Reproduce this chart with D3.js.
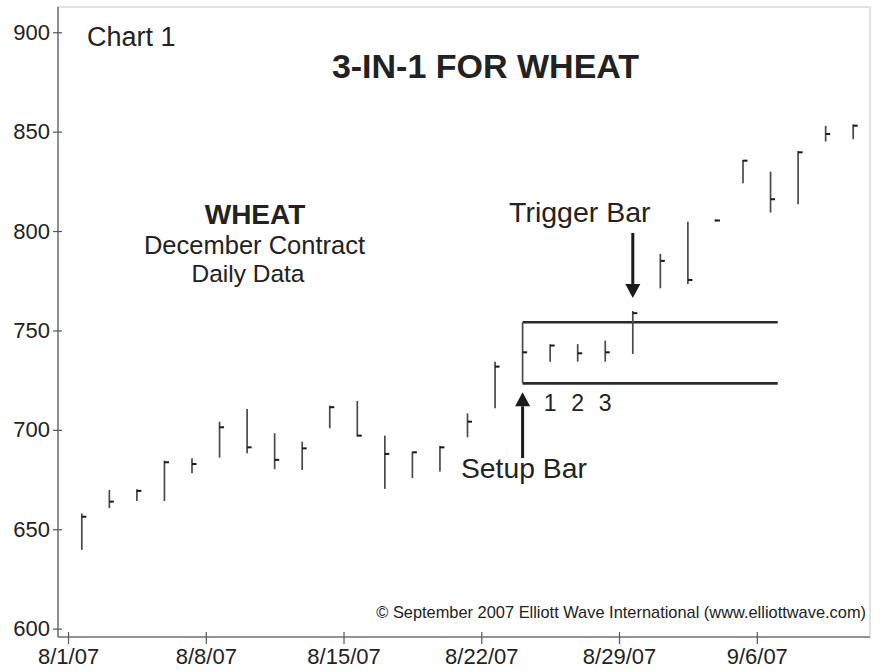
<!DOCTYPE html>
<html>
<head>
<meta charset="utf-8">
<script src="https://cdn.jsdelivr.net/npm/d3@7/dist/d3.min.js"></script>
<style>
  html, body { margin: 0; padding: 0; background: #fff; }
  svg { display: block; }
  text { font-family: "Liberation Sans", Arial, Helvetica, sans-serif; fill: #222; }
</style>
</head>
<body>
<svg id="chart" width="880" height="671"></svg>
<script>
// ---- Data ----
const dates = ["8/1/07","8/2/07","8/3/07","8/6/07","8/7/07",
               "8/8/07","8/9/07","8/10/07","8/13/07","8/14/07",
               "8/15/07","8/16/07","8/17/07","8/20/07","8/21/07",
               "8/22/07","8/23/07","8/24/07","8/27/07","8/28/07",
               "8/29/07","8/30/07","8/31/07","9/4/07","9/5/07",
               "9/6/07","9/7/07","9/10/07","9/11/07"];
const highs  = [658.0,669.8,670.1,684.5,685.7, 704.1,710.5,698.3,694.1,712.2,
                714.5,697.1,689.0,691.9,708.3, 734.3,754.1,743.1,743.1,744.9,
                759.8,788.5,804.7,805.9,835.8, 829.9,840.3,852.9,853.7];
const lows   = [639.6,660.6,664.2,664.2,678.2, 686.0,688.2,680.2,679.8,700.8,
                696.6,670.3,675.7,679.0,696.3, 710.9,723.4,734.3,734.3,734.3,
                738.2,771.2,773.4,804.7,824.0, 809.3,813.5,845.0,846.2];
const closes = [656.3,663.9,669.3,683.7,682.8, 701.3,691.2,684.9,690.7,711.4,
                697.1,687.9,688.7,691.2,704.1, 731.8,739.0,742.4,738.5,739.0,
                758.7,785.0,775.4,805.3,835.4, 816.0,839.6,848.8,853.0];
const yTicks = [600,650,700,750,800,850,900];
const xTickLabels = ["8/1/07","8/8/07","8/15/07","8/22/07","8/29/07","9/6/07"];
const setupIndex = 16;
const triggerIndex = 20;
const countLabels = ["1","2","3"];

const bars = dates.map((d,i)=>({i, date:d, high:highs[i], low:lows[i], close:closes[i]}));

// ---- Layout ----
const L = 58, R = 870, T = 7, B = 637;
const svg = d3.select("#chart");

const x = d3.scaleLinear().domain([-0.864, 28.61]).range([L, R]);
const y = d3.scaleLinear().domain([595.8, 912.7]).range([B, T]);

// frame
svg.append("rect").attr("x", L).attr("y", T).attr("width", R-L).attr("height", B-T)
   .attr("fill","none").attr("stroke","#cfcfcf").attr("stroke-width",1.2);

// y axis
const yAxis = svg.append("g").attr("transform",`translate(${L},0)`)
  .call(d3.axisLeft(y).tickValues(yTicks).tickSize(5).tickPadding(8).tickFormat(d3.format("d")));
yAxis.select(".domain").attr("stroke","#7a7a7a").attr("stroke-width",1.6).attr("d",`M0,${T}V${B}`);
yAxis.selectAll(".tick line").attr("x1",4).attr("x2",-5).attr("stroke","#555").attr("stroke-width",1.2);
yAxis.selectAll(".tick text").attr("font-size",22).attr("fill","#222")
  .attr("font-family",'"Liberation Sans", Arial, sans-serif').attr("x",-8);

// x axis
const xTickIdx = xTickLabels.map(l => dates.indexOf(l) - 0.5);
const xAxis = svg.append("g").attr("transform",`translate(0,${B})`)
  .call(d3.axisBottom(x).tickValues(xTickIdx).tickSize(7).tickPadding(4)
        .tickFormat((d,k)=>xTickLabels[k]));
xAxis.select(".domain").attr("stroke","#7a7a7a").attr("stroke-width",1.6).attr("d",`M${L},0H${R}`);
xAxis.selectAll(".tick line").attr("y1",-5).attr("y2",7).attr("stroke","#555").attr("stroke-width",1.2);
xAxis.selectAll(".tick text").attr("font-size",22).attr("fill","#222").attr("y",11)
  .attr("font-family",'"Liberation Sans", Arial, sans-serif');

// ---- Box between setup bar high/low ----
const sb = bars[setupIndex];
const boxRight = x(25.26);
svg.append("line").attr("x1",x(setupIndex)).attr("x2",boxRight)
   .attr("y1",y(sb.high)).attr("y2",y(sb.high)).attr("stroke","#2a2a2a").attr("stroke-width",2.6);
svg.append("line").attr("x1",x(setupIndex)).attr("x2",boxRight)
   .attr("y1",y(sb.low)).attr("y2",y(sb.low)).attr("stroke","#2a2a2a").attr("stroke-width",2.6);

// ---- HLC bars ----
const g = svg.append("g");
g.selectAll("line.hl").data(bars).join("line").attr("class","hl")
  .attr("x1",d=>x(d.i)).attr("x2",d=>x(d.i))
  .attr("y1",d=>y(d.high)).attr("y2",d=>y(d.low))
  .attr("stroke","#4a4a4a").attr("stroke-width",1.7);
g.selectAll("line.cl").data(bars).join("line").attr("class","cl")
  .attr("x1",d=>x(d.i)).attr("x2",d=>x(d.i)+4.5)
  .attr("y1",d=>y(d.close)).attr("y2",d=>y(d.close))
  .attr("stroke","#1a1a1a").attr("stroke-width",2);

// ---- Arrows ----
function arrow(x0, yFrom, yTip) {
  const dir = yTip > yFrom ? 1 : -1;
  const headLen = 14, headW = 7.5;
  const yBase = yTip - dir*headLen;
  svg.append("line").attr("x1",x0).attr("x2",x0).attr("y1",yFrom).attr("y2",yBase)
     .attr("stroke","#1a1a1a").attr("stroke-width",3);
  svg.append("path").attr("d",`M${x0-headW},${yBase}L${x0+headW},${yBase}L${x0},${yTip}Z`)
     .attr("fill","#1a1a1a");
}
arrow(x(triggerIndex), 233, y(bars[triggerIndex].high) - 13);
arrow(x(setupIndex), 458, y(sb.low) + 9);

// ---- Texts ----
svg.append("text").attr("x",87).attr("y",46).attr("font-size",27).text("Chart 1");
svg.append("text").attr("x",485.5).attr("y",78).attr("text-anchor","middle")
   .attr("font-size",34).attr("font-weight","bold").text("3-IN-1 FOR WHEAT");
svg.append("text").attr("x",255).attr("y",224).attr("text-anchor","middle")
   .attr("font-size",28).attr("font-weight","bold").text("WHEAT");
svg.append("text").attr("x",254.5).attr("y",254).attr("text-anchor","middle")
   .attr("font-size",25.5).text("December Contract");
svg.append("text").attr("x",248).attr("y",282).attr("text-anchor","middle")
   .attr("font-size",24.5).text("Daily Data");
svg.append("text").attr("x",x(triggerIndex)-53).attr("y",222).attr("text-anchor","middle")
   .attr("font-size",28.5).text("Trigger Bar");
svg.append("text").attr("x",461).attr("y",478).attr("font-size",28.3).text("Setup Bar");
svg.selectAll("text.cnt").data(countLabels).join("text").attr("class","cnt")
   .attr("x",(d,k)=>x(setupIndex+1+k)).attr("y",411).attr("text-anchor","middle")
   .attr("font-size",23).text(d=>d);
svg.append("text").attr("x",866).attr("y",618).attr("text-anchor","end")
   .attr("font-size",16.4).text("© September 2007 Elliott Wave International (www.elliottwave.com)");
</script>
</body>
</html>
